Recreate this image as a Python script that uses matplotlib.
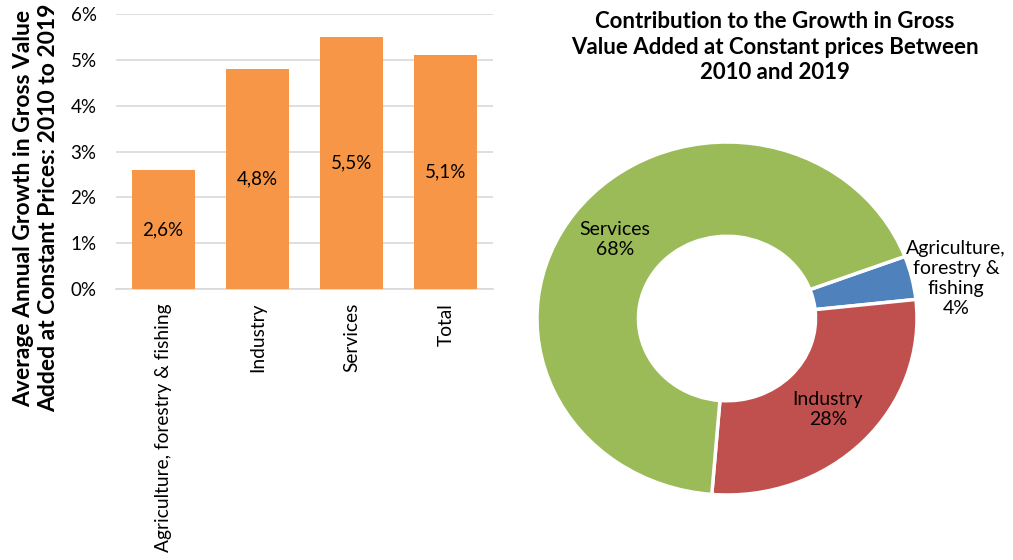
import numpy as np
import matplotlib
matplotlib.use('Agg')
import matplotlib.pyplot as plt

plt.rcParams['font.family'] = ['Lato', 'DejaVu Sans']

# average annual growth, percent
sectors = ['Agriculture, forestry & fishing', 'Industry', 'Services', 'Total']
growth = [2.6, 4.8, 5.5, 5.1]

# contribution to growth, percent
pie_names = ['Agriculture,\nforestry &\nfishing', 'Industry', 'Services']
pie_share = [4, 28, 68]
pie_colors = ['#4F81BD', '#C0504D', '#9BBB59']

fig = plt.figure(figsize=(10.13, 5.6), dpi=100)

# bar chart on the left
ax = fig.add_axes([116/1013, 1-289/560, 377/1013, 275/560])
x = np.arange(len(sectors))
bars = ax.bar(x, growth, width=0.67, color='#F79646', zorder=3)
for b, v in zip(bars, growth):
    ax.text(b.get_x() + b.get_width()/2, v/2, ('%.1f%%' % v).replace('.', ','),
            ha='center', va='center', fontsize=13.5, zorder=4)
ax.set_xlim(-0.5, 3.5)
ax.set_ylim(0, 6)
ax.set_yticks(range(7))
ax.set_yticklabels(['%d%%' % i for i in range(7)], fontsize=13.5)
ax.set_xticks(x)
ax.set_xticklabels(sectors, rotation=90, fontsize=13.8, va='top')
ax.tick_params(length=0)
ax.tick_params(axis='y', pad=14)
ax.tick_params(axis='x', pad=10)
ax.grid(axis='y', color='#d9d9d9', lw=1.2, zorder=0)
for s in ['top', 'right', 'left']:
    ax.spines[s].set_visible(False)
ax.spines['bottom'].set_color('#d9d9d9')
ax.spines['bottom'].set_linewidth(1.2)

fig.text(36/1013, 1-208/560,
         'Average Annual Growth in Gross Value\nAdded at Constant Prices: 2010 to 2019',
         rotation=90, ha='center', va='center', fontsize=16.5, fontweight='bold',
         linespacing=1.2)

# donut chart on the right
cx, cy = 727, 318.5
rx, ry = 190, 176.5
a, b = 1.45, 1.1
pax = fig.add_axes([(cx - a*rx)/1013, 1 - (cy + b*ry)/560, 2*a*rx/1013, 2*b*ry/560])
start = 20.6
wedges, _ = pax.pie(pie_share, colors=pie_colors, startangle=start, counterclock=False,
                    wedgeprops=dict(width=0.534, edgecolor='white', linewidth=2.5))
pax.set_aspect('auto')
pax.set_xlim(-a, a)
pax.set_ylim(-b, b)
pax.axis('off')

total = float(sum(pie_share))
ang = start
for name, share in zip(pie_names, pie_share):
    span = 360 * share / total
    mid = np.deg2rad(ang - span/2)
    ang -= span
    r = 1.24 if share < 10 else 0.74
    px, py = r*np.cos(mid), r*np.sin(mid)
    if share < 10:
        py -= 0.06
    pax.text(px, py, '%s\n%d%%' % (name, share), ha='center', va='center',
             fontsize=14, linespacing=1.22)

fig.text(cx/1013 + 0.047, 1-47/560,
         'Contribution to the Growth in Gross\nValue Added at Constant prices Between\n2010 and 2019',
         ha='center', va='center', fontsize=16, fontweight='bold', linespacing=1.27)

fig.savefig('out.png', dpi=100)
